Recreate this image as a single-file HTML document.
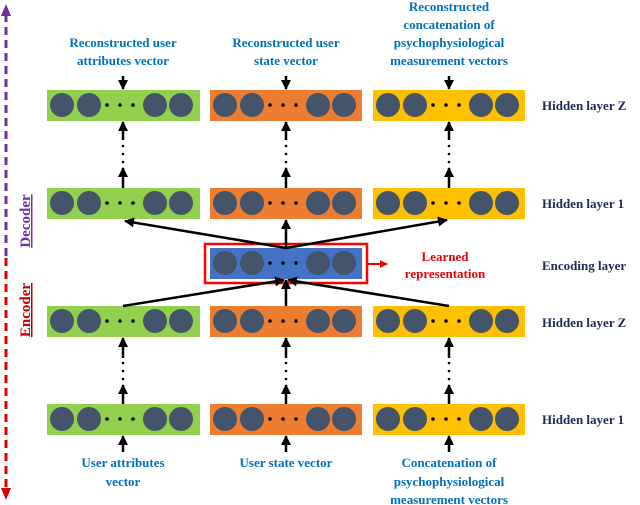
<!DOCTYPE html>
<html><head><meta charset="utf-8"><style>
html,body{margin:0;padding:0;background:#fff;}
svg{display:block;}
.l{font-family:"Liberation Serif",serif;font-weight:bold;font-size:13px;fill:#0070c0;text-anchor:middle;}
.r{font-family:"Liberation Serif",serif;font-weight:bold;font-size:13px;fill:#1f2a5a;}
</style></head><body>
<svg width="640" height="505" viewBox="0 0 640 505" xmlns="http://www.w3.org/2000/svg">
<defs>
<marker id="ah" viewBox="0 0 10 10" refX="9" refY="5" markerWidth="4" markerHeight="4" orient="auto"><path d="M0,0 L10,5 L0,10 z" fill="#000"/></marker>
<marker id="ahr" viewBox="0 0 10 10" refX="9" refY="5" markerWidth="4" markerHeight="4" orient="auto"><path d="M0,0 L10,5 L0,10 z" fill="#e00"/></marker>
<g id="c">
<circle cx="15" cy="15" r="12" fill="#44546a"/><circle cx="42" cy="15" r="12" fill="#44546a"/>
<circle cx="60" cy="15" r="1.8" fill="#000"/><circle cx="73" cy="15" r="1.8" fill="#000"/><circle cx="86" cy="15" r="1.8" fill="#000"/>
<circle cx="108" cy="15" r="12" fill="#44546a"/><circle cx="134" cy="15" r="12" fill="#44546a"/>
</g>
</defs>
<!-- left dashed -->
<line x1="6" y1="14" x2="6" y2="258" stroke="#7030a0" stroke-width="3" stroke-dasharray="8,5"/>
<path d="M1,16 L6,4 L11,16 z" fill="#7030a0"/>
<line x1="6" y1="258" x2="6" y2="490" stroke="#d00" stroke-width="3" stroke-dasharray="8,5"/>
<path d="M1,488 L6,500 L11,488 z" fill="#d00"/>
<text transform="translate(30,221) rotate(-90)" text-anchor="middle" style="font-family:'Liberation Serif',serif;font-weight:bold;font-size:15px;fill:#7030a0;text-decoration:underline">Decoder</text>
<text transform="translate(30,310) rotate(-90)" text-anchor="middle" style="font-family:'Liberation Serif',serif;font-weight:bold;font-size:15px;fill:#c00000;text-decoration:underline">Encoder</text>

<!-- rows -->
<g>
<rect x="47" y="90" width="153" height="31" fill="#92d050"/><use href="#c" x="47" y="90"/>
<rect x="210" y="90" width="152" height="31" fill="#ed7d31"/><use href="#c" x="210" y="90"/>
<rect x="373" y="90" width="152" height="31" fill="#ffc000"/><use href="#c" x="373" y="90"/>
<rect x="47" y="188" width="153" height="31" fill="#92d050"/><use href="#c" x="47" y="188"/>
<rect x="210" y="188" width="152" height="31" fill="#ed7d31"/><use href="#c" x="210" y="188"/>
<rect x="373" y="188" width="152" height="31" fill="#ffc000"/><use href="#c" x="373" y="188"/>
<rect x="47" y="306" width="153" height="31" fill="#92d050"/><use href="#c" x="47" y="306"/>
<rect x="210" y="306" width="152" height="31" fill="#ed7d31"/><use href="#c" x="210" y="306"/>
<rect x="373" y="306" width="152" height="31" fill="#ffc000"/><use href="#c" x="373" y="306"/>
<rect x="47" y="404" width="153" height="31" fill="#92d050"/><use href="#c" x="47" y="404"/>
<rect x="210" y="404" width="152" height="31" fill="#ed7d31"/><use href="#c" x="210" y="404"/>
<rect x="373" y="404" width="152" height="31" fill="#ffc000"/><use href="#c" x="373" y="404"/>
<rect x="210" y="248" width="152" height="31" fill="#4472c4"/><use href="#c" x="210" y="248"/>
<rect x="205" y="244" width="162" height="39" fill="none" stroke="#f00" stroke-width="2.5"/>
</g>
<line x1="367" y1="264" x2="387" y2="264" stroke="#e00" stroke-width="2" marker-end="url(#ahr)"/>
<text x="445" y="261" text-anchor="middle" style="font-family:'Liberation Serif',serif;font-weight:bold;font-size:13px;fill:#e00">Learned</text>
<text x="445" y="278" text-anchor="middle" style="font-family:'Liberation Serif',serif;font-weight:bold;font-size:13px;fill:#e00">representation</text>

<!-- vertical arrows -->
<g stroke="#000" stroke-width="2.5">
<line x1="123" y1="76" x2="123" y2="89" marker-end="url(#ah)"/>
<line x1="286" y1="76" x2="286" y2="89" marker-end="url(#ah)"/>
<line x1="449" y1="76" x2="449" y2="89" marker-end="url(#ah)"/>
<line x1="123" y1="452" x2="123" y2="436" marker-end="url(#ah)"/>
<line x1="286" y1="452" x2="286" y2="436" marker-end="url(#ah)"/>
<line x1="449" y1="452" x2="449" y2="436" marker-end="url(#ah)"/>
<line x1="286" y1="247" x2="286" y2="220" marker-end="url(#ah)"/>
<line x1="286" y1="306" x2="286" y2="280" marker-end="url(#ah)"/>
</g>
<g stroke="#000" stroke-width="2.5">
<line x1="123" y1="140" x2="123" y2="122" marker-end="url(#ah)"/>
<line x1="123" y1="188" x2="123" y2="168" marker-end="url(#ah)"/>
<line x1="286" y1="140" x2="286" y2="122" marker-end="url(#ah)"/>
<line x1="286" y1="188" x2="286" y2="168" marker-end="url(#ah)"/>
<line x1="449" y1="140" x2="449" y2="122" marker-end="url(#ah)"/>
<line x1="449" y1="188" x2="449" y2="168" marker-end="url(#ah)"/>
<line x1="123" y1="358" x2="123" y2="338" marker-end="url(#ah)"/>
<line x1="123" y1="404" x2="123" y2="385" marker-end="url(#ah)"/>
<line x1="286" y1="358" x2="286" y2="338" marker-end="url(#ah)"/>
<line x1="286" y1="404" x2="286" y2="385" marker-end="url(#ah)"/>
<line x1="449" y1="358" x2="449" y2="338" marker-end="url(#ah)"/>
<line x1="449" y1="404" x2="449" y2="385" marker-end="url(#ah)"/>
</g>
<g fill="#000">
<circle cx="123" cy="146" r="1.3"/><circle cx="123" cy="154" r="1.3"/><circle cx="123" cy="162" r="1.3"/>
<circle cx="286" cy="146" r="1.3"/><circle cx="286" cy="154" r="1.3"/><circle cx="286" cy="162" r="1.3"/>
<circle cx="449" cy="146" r="1.3"/><circle cx="449" cy="154" r="1.3"/><circle cx="449" cy="162" r="1.3"/>
<circle cx="123" cy="363" r="1.3"/><circle cx="123" cy="371" r="1.3"/><circle cx="123" cy="379" r="1.3"/>
<circle cx="286" cy="363" r="1.3"/><circle cx="286" cy="371" r="1.3"/><circle cx="286" cy="379" r="1.3"/>
<circle cx="449" cy="363" r="1.3"/><circle cx="449" cy="371" r="1.3"/><circle cx="449" cy="379" r="1.3"/>
</g>
<!-- cross lines -->
<g stroke="#000" stroke-width="2.5">
<line x1="286" y1="248" x2="125" y2="221" marker-end="url(#ah)"/>
<line x1="286" y1="248" x2="447" y2="220" marker-end="url(#ah)"/>
<line x1="123" y1="306" x2="284" y2="280" marker-end="url(#ah)"/>
<line x1="449" y1="306" x2="288" y2="280" marker-end="url(#ah)"/>
</g>

<!-- labels -->
<text class="l" x="123" y="47">Reconstructed user</text>
<text class="l" x="123" y="65">attributes vector</text>
<text class="l" x="286" y="47">Reconstructed user</text>
<text class="l" x="286" y="65">state vector</text>
<text class="l" x="449" y="11">Reconstructed</text>
<text class="l" x="449" y="29">concatenation of</text>
<text class="l" x="449" y="47">psychophysiological</text>
<text class="l" x="449" y="65">measurement vectors</text>
<text class="l" x="123" y="467">User attributes</text>
<text class="l" x="123" y="486">vector</text>
<text class="l" x="286" y="467">User state vector</text>
<text class="l" x="449" y="467">Concatenation of</text>
<text class="l" x="449" y="486">psychophysiological</text>
<text class="l" x="449" y="504">measurement vectors</text>

<text class="r" x="542" y="110">Hidden layer Z</text>
<text class="r" x="542" y="208">Hidden layer 1</text>
<text class="r" x="542" y="270">Encoding layer</text>
<text class="r" x="542" y="327">Hidden layer Z</text>
<text class="r" x="542" y="424">Hidden layer 1</text>
</svg>
</body></html>
